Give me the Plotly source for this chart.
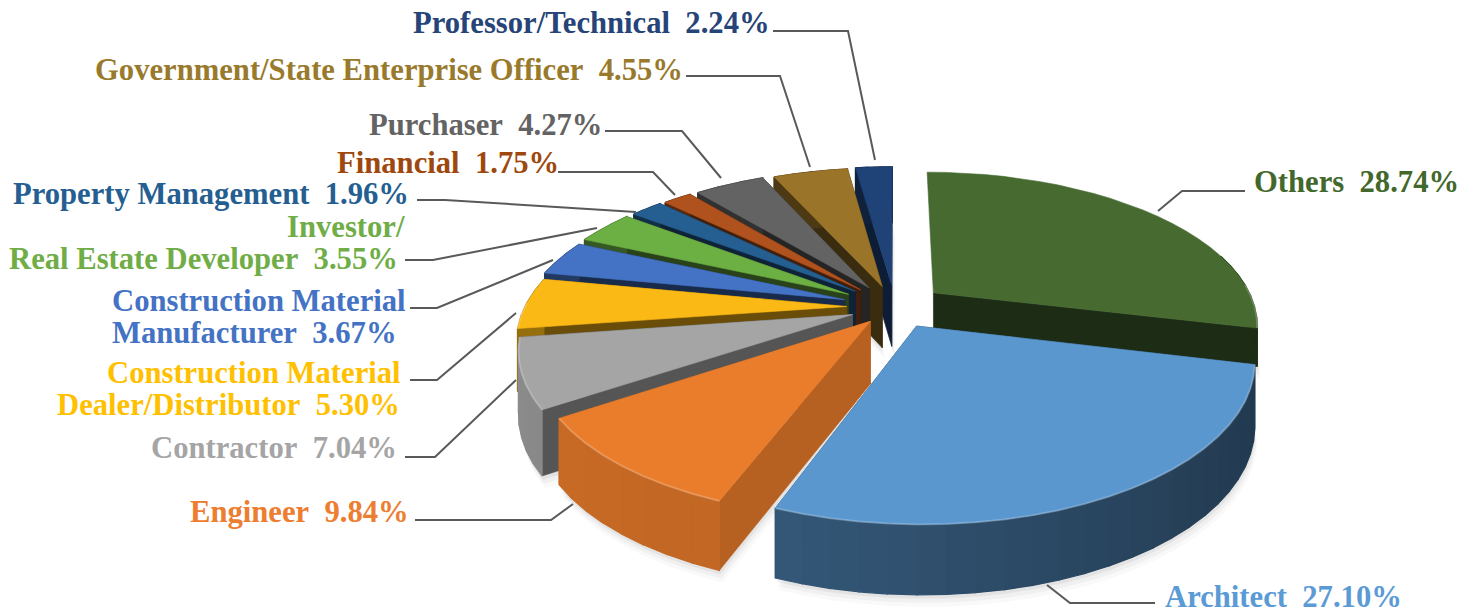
import math
import plotly.graph_objects as go

# ---- data (clockwise from 12 o'clock) ----
categories = ["Others", "Architect", "Engineer", "Contractor",
              "Construction Material\nDealer/Distributor",
              "Construction Material\nManufacturer",
              "Investor/\nReal Estate Developer", "Property Management",
              "Financial", "Purchaser",
              "Government/State Enterprise Officer", "Professor/Technical"]
values = [28.74, 27.10, 9.84, 7.04, 5.30, 3.67, 3.55, 1.96, 1.75, 4.27, 4.55, 2.24]

# ---- styling ----
top_colors = ["#466a30", "#5a97cf", "#ea7d2c", "#a5a5a5", "#fbb916", "#4472c4",
              "#6cb044", "#255e91", "#b0521d", "#636363", "#9a7428", "#1f4277"]
text_colors = ["#43682b", "#5b9bd5", "#ed7d31", "#a5a5a5", "#ffc000", "#4472c4",
               "#70ad47", "#255e91", "#9e480e", "#636363", "#997a2c", "#264478"]
explode = [.155, .14, .12, .14, .15, .165, .17, .165, .16, .155, .145, .15]
heights = [38, 62, 62, 62, 62, 62, 62, 62, 62, 62, 62, 62]
rim_left = [.42, .68, .86, .85, .6, .5, .5, .5, .5, .5, .5, .5]
rim_right = [.42, .38, .76, .6, .6, .5, .5, .5, .5, .5, .5, .5]
face_f = [.42, .42, .78, .52, .42, .38, .38, .38, .38, .38, .38, .45]
draw_order = [11, 10, 9, 8, 7, 6, 5, 4, 3, 0, 2, 1]

CX, CY, A, B, K = 895, 307, 322, 150, .2

label_pos = {
    0: [(1457, 182)], 1: [(1400, 597)], 2: [(407, 512)], 3: [(395, 448)],
    4: [(399, 373), (398, 405)], 5: [(404, 301), (395, 333)],
    6: [(403, 227), (396, 259)], 7: [(407, 194)], 8: [(557, 163)],
    9: [(600, 125)], 10: [(681, 70)], 11: [(768, 23)],
}
leaders = {
    0: [(1245, 191), (1182, 191), (1158, 211)],
    1: [(1155, 603), (1070, 603), (1047, 585)],
    2: [(415, 520), (551, 520), (573, 504)],
    3: [(405, 457), (435, 457), (516, 380)],
    4: [(410, 380), (437, 380), (516, 313)],
    5: [(410, 308), (437, 308), (553, 260)],
    6: [(405, 260), (433, 260), (597, 228)],
    7: [(417, 200), (445, 200), (636, 212)],
    8: [(558, 172), (653, 172), (675, 195)],
    9: [(605, 131), (682, 131), (721, 178)],
    10: [(686, 76), (780, 76), (810, 167)],
    11: [(773, 31), (848, 31), (875, 160)],
}


def shade(hex_color, f):
    r, g, b = (int(hex_color[i:i + 2], 16) for i in (1, 3, 5))
    return f"rgb({int(r * f)},{int(g * f)},{int(b * f)})"


def project(X, Z, h=0):
    p = 1 / (1 + K * Z)
    return CX + A * X * p, CY - B * Z * p + h * p ** .5


def poly(fig, pts, color, lw=1.2):
    fig.add_trace(go.Scatter(x=[q[0] for q in pts] + [pts[0][0]],
                             y=[q[1] for q in pts] + [pts[0][1]],
                             mode="lines", fill="toself", fillcolor=color,
                             line=dict(color=color, width=lw), hoverinfo="skip",
                             showlegend=False))


total = sum(values)
angles = [0]
for v in values:
    angles.append(angles[-1] + v / total * 2 * math.pi)

fig = go.Figure()


def slice_geometry(i):
    t0, t1 = angles[i], angles[i + 1]
    mid = (t0 + t1) / 2
    ox, oz = explode[i] * math.sin(mid), explode[i] * math.cos(mid)
    n = max(3, int((t1 - t0) / math.radians(4)))
    ths = [t0 + (t1 - t0) * j / n for j in range(n + 1)]
    arc = [(ox + math.sin(t), oz + math.cos(t)) for t in ths]
    return (ox, oz), arc, ths


# soft shadow beneath the body
for grow, alpha in ((12, .025), (8, .035), (4, .05)):
    for i in draw_order:
        apex, arc, _ = slice_geometry(i)
        h = heights[i]
        pts = [project(*apex, h)] + [project(*q, h) for q in arc]
        pts = [(x + grow * .25, y + grow) for x, y in pts]
        poly(fig, pts, f"rgba(0,0,0,{alpha})", 0)

for i in draw_order:
    apex, arc, ths = slice_geometry(i)
    col = top_colors[i]
    h = heights[i]
    fc = shade(col, face_f[i])
    # cut faces (the back edge of the first slice is turned away from the viewer)
    for end in (arc[:1] if i != 0 else []) + [arc[-1]]:
        poly(fig, [project(*apex), project(*end), project(*end, h), project(*apex, h)], fc, .6)
    # curved rim, shaded across its sweep
    for j in range(len(arc) - 1):
        if i == 0 and math.cos(ths[j]) > .3:
            continue  # far side of the first slice stays hidden
        s = (math.sin((ths[j] + ths[j + 1]) / 2) + 1) / 2
        f = rim_left[i] + (rim_right[i] - rim_left[i]) * s
        poly(fig, [project(*arc[j]), project(*arc[j + 1]),
                   project(*arc[j + 1], h), project(*arc[j], h)], shade(col, f))
    # top surface
    poly(fig, [project(*apex)] + [project(*q) for q in arc], col, .6)
    # bevel highlight on the front arc
    front = [project(*q) for q, t in zip(arc, ths) if math.cos(t) < .1]
    if len(front) > 1:
        fig.add_trace(go.Scatter(x=[q[0] for q in front], y=[q[1] for q in front], mode="lines",
                                 line=dict(color="rgba(255,255,255,.22)", width=2),
                                 hoverinfo="skip", showlegend=False))

for i, path in leaders.items():
    fig.add_trace(go.Scatter(x=[q[0] for q in path], y=[q[1] for q in path], mode="lines",
                             line=dict(color="#595959", width=2), hoverinfo="skip",
                             showlegend=False))

for i, name in enumerate(categories):
    lines = f"{name}\u00a0\u00a0{values[i]:.2f}%".split("\n")
    for line, (x, y) in zip(lines, label_pos[i]):
        fig.add_annotation(x=x, y=y, text=f"<b>{line}</b>", showarrow=False, xanchor="right",
                           yanchor="middle", xshift=2, borderpad=0, borderwidth=0,
                           font=dict(family="Liberation Serif", size=30.65, color=text_colors[i]))

fig.update_layout(width=1475, height=614, margin=dict(l=0, r=0, t=0, b=0),
                  paper_bgcolor="white", plot_bgcolor="white", showlegend=False,
                  xaxis=dict(range=[0, 1475], visible=False, fixedrange=True),
                  yaxis=dict(range=[614, 0], visible=False, fixedrange=True))
fig.write_html("out.html", config={"displayModeBar": False},
               post_script="document.body.style.margin='0';document.body.style.overflow='hidden';")
